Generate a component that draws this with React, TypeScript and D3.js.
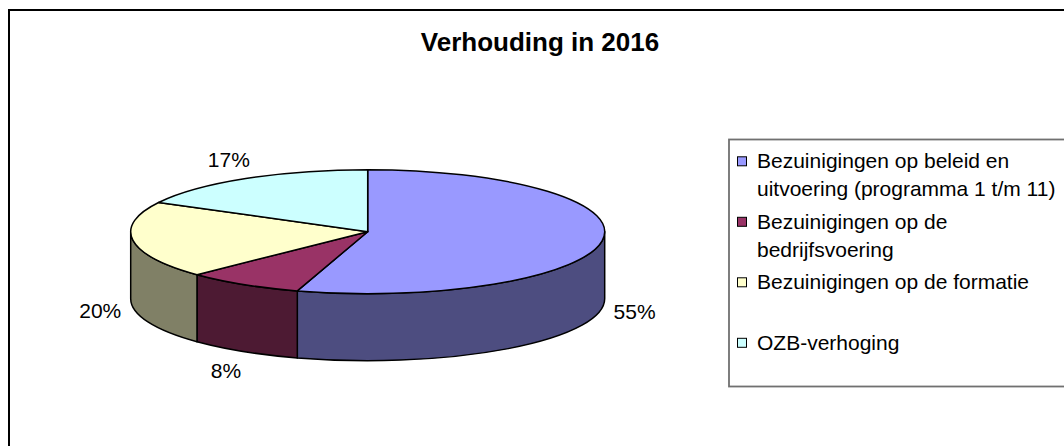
import React from "react";
import * as d3 from "d3";

const title = "Verhouding in 2016";
const categories = [
  "Bezuinigingen op beleid en uitvoering (programma 1 t/m 11)",
  "Bezuinigingen op de bedrijfsvoering",
  "Bezuinigingen op de formatie",
  "OZB-verhoging",
];
const values = [54.8, 8.0, 20.0, 17.2];
const topColors = ["#9999FF", "#993366", "#FFFFCC", "#CCFFFF"];
const sideColors = ["#4D4D80", "#4D1A33", "#808066", "#668080"];

const W = 1064;
const H = 446;
const FONT = "'Liberation Sans', Arial, sans-serif";

function wrap(text: string, maxW: number, font: string): string[] {
  const canvas = document.createElement("canvas");
  const ctx = canvas.getContext("2d");
  const measure = (s: string) => {
    if (ctx) {
      ctx.font = font;
      return ctx.measureText(s).width;
    }
    return s.length * 10.5;
  };
  const words = text.split(" ");
  const lines: string[] = [];
  let cur = "";
  for (const w of words) {
    const t = cur ? cur + " " + w : w;
    if (cur && measure(t) > maxW) {
      lines.push(cur);
      cur = w;
    } else cur = t;
  }
  if (cur) lines.push(cur);
  return lines;
}

export default function App() {
  const cx = 367.7;
  const cy = 231.7;
  const rx = 237;
  const ry = 62;
  const depth = 67;
  const labelRx = 270;
  const labelRy = 84;

  const arcs = d3
    .pie<number>()
    .sort(null)
    .startAngle(0)
    .endAngle(2 * Math.PI)(values);
  const total = d3.sum(values);

  const pt = (a: number, dy = 0) =>
    `${cx + rx * Math.sin(a)},${cy - ry * Math.cos(a) + dy}`;

  const topPath = (a0: number, a1: number) =>
    `M${cx},${cy}L${pt(a0)}A${rx},${ry} 0 ${a1 - a0 > Math.PI ? 1 : 0} 1 ${pt(a1)}Z`;

  const sidePath = (a0: number, a1: number) => {
    const s = Math.max(a0, Math.PI / 2);
    const e = Math.min(a1, (3 * Math.PI) / 2);
    if (s >= e) return null;
    return `M${pt(s)}A${rx},${ry} 0 0 1 ${pt(e)}L${pt(e, depth)}A${rx},${ry} 0 0 0 ${pt(s, depth)}Z`;
  };

  const labelFont = 21;
  const legendFont = 21;
  const legendX = 729;
  const legendTop = 139.5;
  const legendBottom = 386.5;
  const itemStart = 168.3;
  const itemPitch = 60.5;
  const lineH = 28;

  return (
    <svg
      width={W}
      height={H}
      style={{ position: "absolute", left: 0, top: 0, background: "#fff" }}
      fontFamily={FONT}
    >
      <rect x={0} y={0} width={W} height={H} fill="#fff" />
      <rect x={9} y={10} width={1200} height={600} fill="none" stroke="#000" strokeWidth={2} />
      <text x={540} y={51} textAnchor="middle" fontWeight="bold" fontSize={26} fill="#000">
        {title}
      </text>

      {arcs.map((d, i) => {
        const p = sidePath(d.startAngle, d.endAngle);
        return p ? (
          <path key={"s" + i} d={p} fill={sideColors[i]} stroke="#000" strokeWidth={1.5} strokeLinejoin="round" />
        ) : null;
      })}
      {arcs.map((d, i) => (
        <path
          key={"t" + i}
          d={topPath(d.startAngle, d.endAngle)}
          fill={topColors[i]}
          stroke="#000"
          strokeWidth={1.5}
          strokeLinejoin="round"
        />
      ))}
      {arcs.map((d, i) => {
        const mid = (d.startAngle + d.endAngle) / 2;
        const front = Math.cos(mid) < 0;
        const x = cx + labelRx * Math.sin(mid);
        const y = cy - labelRy * Math.cos(mid) + (front ? depth : 0);
        return (
          <text key={"l" + i} x={x} y={y + labelFont * 0.36} textAnchor="middle" fontSize={labelFont} fill="#000">
            {Math.round((d.data / total) * 100) + "%"}
          </text>
        );
      })}

      <rect
        x={legendX}
        y={legendTop}
        width={500}
        height={legendBottom - legendTop}
        fill="#fff"
        stroke="#707070"
        strokeWidth={1.8}
      />
      {categories.map((c, i) => {
        const base = itemStart + i * itemPitch;
        const lines = wrap(c, 310, `${legendFont}px ${FONT}`);
        return (
          <g key={"g" + i}>
            <rect x={737.5} y={base - 11.5} width={9} height={9} fill={topColors[i]} stroke="#000" strokeWidth={1} />
            {lines.map((ln, j) => (
              <text key={j} x={757} y={base + j * lineH} fontSize={legendFont} fill="#000">
                {ln}
              </text>
            ))}
          </g>
        );
      })}
    </svg>
  );
}
